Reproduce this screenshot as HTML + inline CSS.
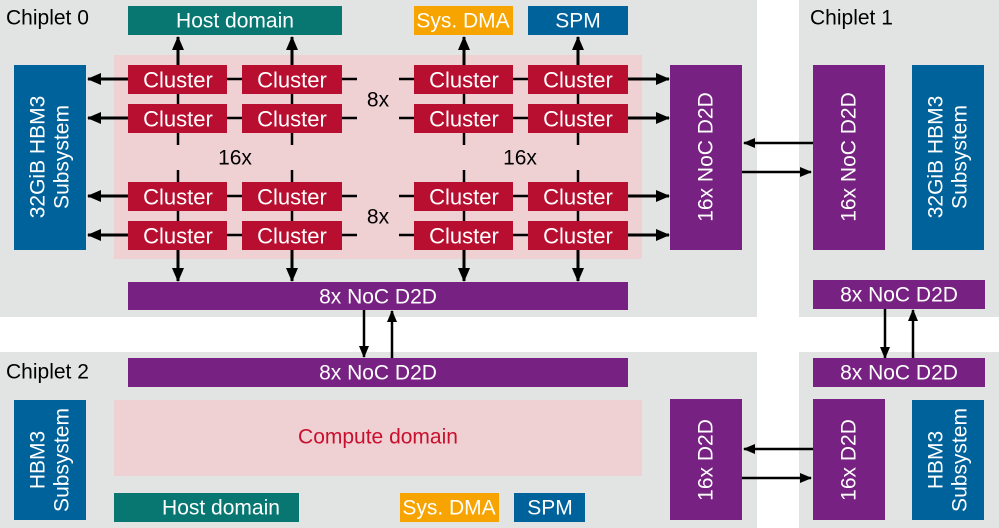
<!DOCTYPE html>
<html><head><meta charset="utf-8"><style>
html,body{margin:0;padding:0;background:#fff}
svg{display:block}
text{font-family:"Liberation Sans",sans-serif;font-size:21px;text-anchor:middle;dominant-baseline:central}
.c{font-size:22px}
.w{fill:#fff}
</style></head><body>
<svg width="999" height="528" viewBox="0 0 999 528" xmlns="http://www.w3.org/2000/svg">
<defs><marker id="a" markerWidth="12" markerHeight="10" refX="11" refY="5" orient="auto" markerUnits="userSpaceOnUse"><path d="M0,0 L12,5 L0,10 z" fill="#000"/></marker>
<marker id="b" markerWidth="14" markerHeight="12" refX="13" refY="6" orient="auto" markerUnits="userSpaceOnUse"><path d="M0,0 L14,6 L0,12 z" fill="#000"/></marker></defs>
<rect x="0" y="0" width="757" height="317" fill="#e2e3e3"/>
<rect x="799" y="0" width="200" height="317" fill="#e2e3e3"/>
<rect x="0" y="352" width="757" height="176" fill="#e2e3e3"/>
<rect x="799" y="352" width="200" height="176" fill="#e2e3e3"/>
<text x="6" y="18" style="text-anchor:start">Chiplet 0</text>
<text x="810" y="18" style="text-anchor:start">Chiplet 1</text>
<text x="6" y="372" style="text-anchor:start">Chiplet 2</text>
<rect x="114" y="55" width="528" height="204" fill="#efd0d3"/>
<rect x="128" y="6" width="214" height="29" fill="#087771"/><text class="w" x="235" y="21">Host domain</text>
<rect x="414" y="6" width="99" height="29" fill="#f7a400"/><text class="w" x="463" y="21">Sys. DMA</text>
<rect x="528" y="6" width="100" height="29" fill="#00629b"/><text class="w" x="578" y="21">SPM</text>
<g stroke="#000" stroke-width="3" fill="none">
<line x1="178" y1="65" x2="178" y2="37" marker-end="url(#b)"/>
<line x1="292" y1="65" x2="292" y2="37" marker-end="url(#b)"/>
<line x1="464" y1="65" x2="464" y2="37" marker-end="url(#b)"/>
<line x1="578" y1="65" x2="578" y2="37" marker-end="url(#b)"/>
<line x1="178" y1="250" x2="178" y2="281" marker-end="url(#b)"/>
<line x1="292" y1="250" x2="292" y2="281" marker-end="url(#b)"/>
<line x1="464" y1="250" x2="464" y2="281" marker-end="url(#b)"/>
<line x1="578" y1="250" x2="578" y2="281" marker-end="url(#b)"/>
<g stroke-width="2.5">
<line x1="178" y1="94" x2="178" y2="104"/><line x1="292" y1="94" x2="292" y2="104"/><line x1="464" y1="94" x2="464" y2="104"/><line x1="578" y1="94" x2="578" y2="104"/>
<line x1="178" y1="211" x2="178" y2="221"/><line x1="292" y1="211" x2="292" y2="221"/><line x1="464" y1="211" x2="464" y2="221"/><line x1="578" y1="211" x2="578" y2="221"/>
<line x1="178" y1="133" x2="178" y2="145"/><line x1="292" y1="133" x2="292" y2="145"/><line x1="464" y1="133" x2="464" y2="145"/><line x1="578" y1="133" x2="578" y2="145"/>
<line x1="178" y1="170" x2="178" y2="182"/><line x1="292" y1="170" x2="292" y2="182"/><line x1="464" y1="170" x2="464" y2="182"/><line x1="578" y1="170" x2="578" y2="182"/>
</g>
<g stroke-width="2.5">
<line x1="227" y1="79" x2="242" y2="79"/><line x1="227" y1="118" x2="242" y2="118"/><line x1="227" y1="196" x2="242" y2="196"/><line x1="227" y1="235" x2="242" y2="235"/>
<line x1="513" y1="79" x2="528" y2="79"/><line x1="513" y1="118" x2="528" y2="118"/><line x1="513" y1="196" x2="528" y2="196"/><line x1="513" y1="235" x2="528" y2="235"/>
<line x1="342" y1="79" x2="357" y2="79"/><line x1="342" y1="118" x2="357" y2="118"/><line x1="342" y1="196" x2="357" y2="196"/><line x1="342" y1="235" x2="357" y2="235"/>
<line x1="399" y1="79" x2="414" y2="79"/><line x1="399" y1="118" x2="414" y2="118"/><line x1="399" y1="196" x2="414" y2="196"/><line x1="399" y1="235" x2="414" y2="235"/>
</g>
<line x1="128" y1="79" x2="88" y2="79" marker-end="url(#b)"/><line x1="128" y1="118" x2="88" y2="118" marker-end="url(#b)"/>
<line x1="128" y1="196" x2="88" y2="196" marker-end="url(#b)"/><line x1="128" y1="235" x2="88" y2="235" marker-end="url(#b)"/>
<line x1="628" y1="79" x2="669" y2="79" marker-end="url(#b)"/><line x1="628" y1="118" x2="669" y2="118" marker-end="url(#b)"/>
<line x1="628" y1="196" x2="669" y2="196" marker-end="url(#b)"/><line x1="628" y1="235" x2="669" y2="235" marker-end="url(#b)"/>
<g stroke-width="2.5">
<line x1="813" y1="143" x2="744" y2="143" marker-end="url(#a)"/><line x1="742" y1="172" x2="811" y2="172" marker-end="url(#a)"/>
<line x1="813" y1="449" x2="744" y2="449" marker-end="url(#a)"/><line x1="742" y1="478" x2="811" y2="478" marker-end="url(#a)"/>
<line x1="364" y1="310" x2="364" y2="357" marker-end="url(#a)"/><line x1="392" y1="358" x2="392" y2="311" marker-end="url(#a)"/>
<line x1="885" y1="309" x2="885" y2="358" marker-end="url(#a)"/><line x1="913" y1="359" x2="913" y2="310" marker-end="url(#a)"/>
</g>
</g>
<g fill="#b80f30">
<rect x="128" y="65" width="99" height="29"/><rect x="242" y="65" width="100" height="29"/><rect x="414" y="65" width="99" height="29"/><rect x="528" y="65" width="100" height="29"/>
<rect x="128" y="104" width="99" height="29"/><rect x="242" y="104" width="100" height="29"/><rect x="414" y="104" width="99" height="29"/><rect x="528" y="104" width="100" height="29"/>
<rect x="128" y="182" width="99" height="29"/><rect x="242" y="182" width="100" height="29"/><rect x="414" y="182" width="99" height="29"/><rect x="528" y="182" width="100" height="29"/>
<rect x="128" y="221" width="99" height="29"/><rect x="242" y="221" width="100" height="29"/><rect x="414" y="221" width="99" height="29"/><rect x="528" y="221" width="100" height="29"/>
</g>
<g>
<text class="w c" x="178" y="80">Cluster</text><text class="w c" x="292" y="80">Cluster</text><text class="w c" x="464" y="80">Cluster</text><text class="w c" x="578" y="80">Cluster</text>
<text class="w c" x="178" y="119">Cluster</text><text class="w c" x="292" y="119">Cluster</text><text class="w c" x="464" y="119">Cluster</text><text class="w c" x="578" y="119">Cluster</text>
<text class="w c" x="178" y="197">Cluster</text><text class="w c" x="292" y="197">Cluster</text><text class="w c" x="464" y="197">Cluster</text><text class="w c" x="578" y="197">Cluster</text>
<text class="w c" x="178" y="236">Cluster</text><text class="w c" x="292" y="236">Cluster</text><text class="w c" x="464" y="236">Cluster</text><text class="w c" x="578" y="236">Cluster</text>
</g>
<text x="378" y="100">8x</text><text x="378" y="217">8x</text>
<text x="235" y="158">16x</text><text x="520" y="158">16x</text>
<rect x="14" y="65" width="72" height="185" fill="#00629b"/>
<text class="w" transform="translate(50,157) rotate(-90)" y="-12">32GiB HBM3</text>
<text class="w" transform="translate(50,157) rotate(-90)" y="12">Subsystem</text>
<rect x="670" y="65" width="72" height="185" fill="#772282"/>
<text class="w" transform="translate(706,157) rotate(-90)">16x NoC D2D</text>
<rect x="813" y="65" width="72" height="185" fill="#772282"/>
<text class="w" transform="translate(849,157) rotate(-90)">16x NoC D2D</text>
<rect x="912" y="65" width="72" height="185" fill="#00629b"/>
<text class="w" transform="translate(948,157) rotate(-90)" y="-12">32GiB HBM3</text>
<text class="w" transform="translate(948,157) rotate(-90)" y="12">Subsystem</text>
<rect x="128" y="282" width="500" height="28" fill="#772282"/><text class="w" x="378" y="297">8x NoC D2D</text>
<rect x="813" y="280" width="172" height="29" fill="#772282"/><text class="w" x="899" y="295">8x NoC D2D</text>
<rect x="128" y="358" width="500" height="29" fill="#772282"/><text class="w" x="378" y="373">8x NoC D2D</text>
<rect x="813" y="358" width="172" height="29" fill="#772282"/><text class="w" x="899" y="373">8x NoC D2D</text>
<rect x="114" y="400" width="528" height="76" fill="#efd0d3"/><text x="378" y="437" fill="#c8102e">Compute domain</text>
<rect x="14" y="400" width="72" height="120" fill="#00629b"/>
<text class="w" transform="translate(50,460) rotate(-90)" y="-12">HBM3</text>
<text class="w" transform="translate(50,460) rotate(-90)" y="12">Subsystem</text>
<rect x="912" y="400" width="72" height="120" fill="#00629b"/>
<text class="w" transform="translate(948,460) rotate(-90)" y="-12">HBM3</text>
<text class="w" transform="translate(948,460) rotate(-90)" y="12">Subsystem</text>
<rect x="670" y="399" width="72" height="121" fill="#772282"/>
<text class="w" transform="translate(706,460) rotate(-90)">16x D2D</text>
<rect x="813" y="399" width="72" height="121" fill="#772282"/>
<text class="w" transform="translate(849,460) rotate(-90)">16x D2D</text>
<rect x="114" y="493" width="185" height="29" fill="#087771"/><text class="w" x="221" y="508">Host domain</text>
<rect x="400" y="493" width="99" height="29" fill="#f7a400"/><text class="w" x="449" y="508">Sys. DMA</text>
<rect x="514" y="493" width="71" height="29" fill="#00629b"/><text class="w" x="550" y="508">SPM</text>
</svg>
</body></html>
